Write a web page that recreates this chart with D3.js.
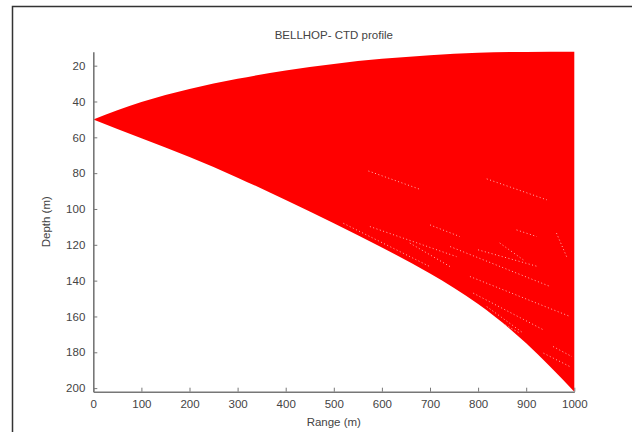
<!DOCTYPE html>
<html>
<head>
<meta charset="utf-8">
<script src="https://cdn.jsdelivr.net/npm/d3@7"></script>
<style>
  html, body { margin: 0; padding: 0; background: #fff; }
  svg { display: block; }
  text { font-family: "Liberation Sans", Arial, sans-serif; fill: #444; }
</style>
</head>
<body>
<svg id="chart" width="632" height="432"></svg>
<script>
// ---- data ----
const title = "BELLHOP- CTD profile";
const xLabel = "Range (m)";
const yLabel = "Depth (m)";
const rangeDomain = [0, 1000];
const depthDomain = [12.2, 202];
const xTicks = [0, 100, 200, 300, 400, 500, 600, 700, 800, 900, 1000];
const yTicks = [20, 40, 60, 80, 100, 120, 140, 160, 180, 200];

// ray-fan envelope: range (m), shallowest and deepest ray depth (m)
const envRange = [0, 100, 200, 300, 400, 500, 600, 700, 800, 900, 1000];
const envTop =   [50, 40.3, 33, 27.3, 22.7, 19, 16.2, 14.2, 12.8, 12.3, 12.2];
const envBottom = [50, 60.5, 71, 82.5, 95, 108, 121.5, 136, 153, 175, 202];

// thin gaps between rays: [range0, depth0, range1, depth1]
const rayGaps = [
  [572, 78.8, 679, 89],
  [818, 83.2, 943, 94.9],
  [520, 108, 700, 132.2],
  [575, 109.8, 755, 126.6],
  [700, 108.9, 762, 115.4],
  [742, 121, 950, 143.3],
  [800, 122.8, 925, 132.2],
  [783, 137.7, 991, 160],
  [790, 147, 936, 167.5],
  [818, 154.5, 894, 169.3],
  [936, 180.5, 991, 188],
  [880, 111.7, 922, 115.4],
  [963, 113.5, 984, 126.6],
  [845, 119, 894, 128.4],
  [956, 176.8, 995, 182.4],
  [658, 119, 742, 132.2],
  [825, 160, 887, 169.3]
];

// ---- drawing ----
const svg = d3.select("#chart");
const W = 632, H = 432;
const plot = { left: 93.3, right: 574.3, top: 51.7, bottom: 391.7 };

const x = d3.scaleLinear().domain(rangeDomain).range([plot.left, plot.right]);
const y = d3.scaleLinear().domain(depthDomain).range([plot.top, plot.bottom]);

// outer frame (top and left edges)
svg.append("path")
  .attr("d", `M12.5,${H} L12.5,6.5 L${W},6.5`)
  .attr("fill", "none").attr("stroke", "#333").attr("stroke-width", 1.5);

// fan area
const env = envRange.map((r, i) => ({ r, t: envTop[i], b: envBottom[i] }));
const area = d3.area()
  .x(d => x(d.r))
  .y0(d => y(d.t))
  .y1(d => y(d.b))
  .curve(d3.curveNatural);
svg.append("path").datum(env)
  .attr("d", area)
  .attr("fill", "#ff0000");

// gaps
svg.append("g").selectAll("line").data(rayGaps).join("line")
  .attr("x1", d => x(d[0])).attr("y1", d => y(d[1]))
  .attr("x2", d => x(d[2])).attr("y2", d => y(d[3]))
  .attr("stroke", "#fff")
  .attr("stroke-width", 0.9)
  .attr("stroke-dasharray", "1,2.5")
  .attr("opacity", 0.8);

// axes
const axisColor = "#777";
const xAxis = d3.axisBottom(x).tickValues(xTicks).tickFormat(d3.format("d"))
  .tickSizeInner(-4).tickSizeOuter(0).tickPadding(8);
const yAxis = d3.axisLeft(y).tickValues(yTicks).tickFormat(d3.format("d"))
  .tickSizeInner(-4).tickSizeOuter(0).tickPadding(7);

const gx = svg.append("g").attr("transform", `translate(0,${plot.bottom})`).call(xAxis);
const gy = svg.append("g").attr("transform", `translate(${plot.left},0)`).call(yAxis);

[gx, gy].forEach(g => {
  g.select(".domain").attr("stroke", axisColor).attr("stroke-width", 1.6);
  g.selectAll(".tick line").attr("stroke", axisColor).attr("stroke-width", 1);
  g.selectAll(".tick text")
    .attr("font-family", "'Liberation Sans', Arial, sans-serif")
    .attr("font-size", 11.5).attr("fill", "#444");
});
gy.selectAll(".tick text").attr("dx", "-1");

// title & labels
svg.append("text")
  .attr("x", (plot.left + plot.right) / 2).attr("y", 39)
  .attr("text-anchor", "middle").attr("font-size", 11.5)
  .text(title);

svg.append("text")
  .attr("x", (plot.left + plot.right) / 2).attr("y", 426)
  .attr("text-anchor", "middle").attr("font-size", 11.5)
  .text(xLabel);

svg.append("text")
  .attr("transform", `translate(50,${(plot.top + plot.bottom) / 2}) rotate(-90)`)
  .attr("text-anchor", "middle").attr("font-size", 11.5)
  .text(yLabel);
</script>
</body>
</html>
